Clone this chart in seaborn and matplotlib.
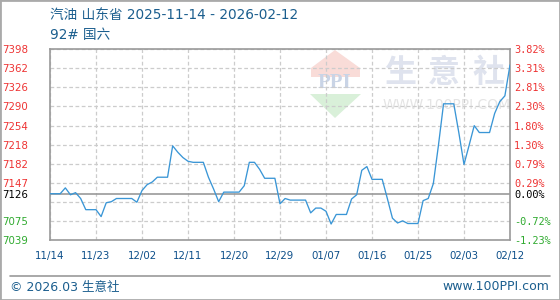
import numpy as np
import pandas as pd
import matplotlib
matplotlib.use('Agg')
import matplotlib.pyplot as plt
import seaborn as sns
from matplotlib.patches import Polygon, Rectangle
from matplotlib.lines import Line2D

# ---------------- data ----------------
title = '汽油 山东省 2025-11-14 - 2026-02-12'
subtitle = '92# 国六'
start_date = '2025-11-14'
end_date = '2026-02-12'
prices = [
    7126, 7126, 7126, 7137, 7124, 7128, 7117, 7096, 7096, 7096,
    7083, 7109, 7111, 7117, 7117, 7117, 7117, 7110, 7132, 7143,
    7148, 7157, 7157, 7157, 7216, 7204, 7194, 7187, 7185, 7185,
    7185, 7157, 7135, 7111, 7129, 7129, 7129, 7129, 7141, 7185,
    7185, 7172, 7155, 7155, 7155, 7107, 7117, 7114, 7114, 7114,
    7114, 7090, 7099, 7099, 7093, 7069, 7087, 7087, 7087, 7116,
    7124, 7170, 7177, 7153, 7153, 7153, 7117, 7080, 7071, 7075,
    7070, 7070, 7070, 7113, 7117, 7145, 7217, 7295, 7295, 7295,
    7240, 7181, 7217, 7254, 7241, 7241, 7241, 7277, 7299, 7310,
    7368,
]
base_price = 7126
base_label = '7126'
base_pct_label = '0.00%'
y_ticks = [7039, 7075, 7111, 7147, 7182, 7218, 7254, 7290, 7326, 7362, 7398]
y_left_labels = ['7039', '7075', '', '7147', '7182', '7218', '7254', '7290', '7326', '7362', '7398']
y_right_labels = ['-1.23%', '-0.72%', '', '0.29%', '0.79%', '1.30%', '1.80%', '2.30%', '2.81%', '3.31%', '3.82%']
x_tick_labels = ['11/14', '11/23', '12/02', '12/11', '12/20', '12/29',
                 '01/07', '01/16', '01/25', '02/03', '02/12']
footer_left = '© 2026.03 生意社'
footer_right = 'www.100PPI.com'
wm_chars = ['生', '意', '社']
wm_url = 'WWW.100PPI.COM'
wm_logo = 'PPI'

# ---------------- style ----------------
sns.set_theme(style='white')
plt.rcParams['font.family'] = ['DejaVu Sans', 'Noto Sans CJK SC']

W, H = 560, 300
def fx(x):
    return x / W
def fy(y):
    return 1 - y / H

BLUE_TXT = '#1b5e8e'
RED = '#ee3333'
GREEN = '#2faa2f'
LINE = '#3a96d6'
GRID = '#cccccc'
FRAME = '#9a9a9a'

dates = pd.date_range(start_date, end_date, freq='D')
df = pd.DataFrame({'date': dates, 'price': prices})

fig = plt.figure(figsize=(W / 100, H / 100), dpi=100)
fig.patch.set_facecolor('white')

# ---------------- watermark (background) ----------------
fig.patches.append(Polygon([(fx(311), fy(77)), (fx(311), fy(68)), (fx(335), fy(50)),
                            (fx(360), fy(68)), (fx(360), fy(77))],
                           closed=True, transform=fig.transFigure,
                           facecolor='#f9dcd8', edgecolor='none', zorder=-5))
fig.patches.append(Polygon([(fx(310), fy(94)), (fx(361), fy(94)), (fx(335), fy(118))],
                           closed=True, transform=fig.transFigure,
                           facecolor='#d9f0d9', edgecolor='none', zorder=-5))
fig.text(fx(335), fy(83), wm_logo, ha='center', va='center', fontsize=15,
         fontweight='bold', family='Liberation Serif', color='#c9d4e6', zorder=-4)
for c, xc in zip(wm_chars, [400, 444, 489]):
    fig.text(fx(xc), fy(73), c, ha='center', va='center', fontsize=23,
             family=['Noto Sans CJK SC'], fontweight='bold', color='#dfe3ee', zorder=-4)
fig.text(fx(447), fy(105), wm_url, ha='center', va='center', fontsize=10,
         color='#e4e4e4', zorder=-4)

# ---------------- main axes ----------------
ax = fig.add_axes([fx(50), fy(240), (510 - 50) / W, (240 - 49) / H])
ax.patch.set_alpha(0)
sns.lineplot(data=df, x='date', y='price', ax=ax, color=LINE, linewidth=0.95, zorder=5)
ax.set_xlim(dates[0], dates[-1])
ax.set_ylim(y_ticks[0], y_ticks[-1])
ax.set_xlabel('')
ax.set_ylabel('')

ax.set_xticks(dates[::9])
ax.set_xticklabels(x_tick_labels)
ax.set_yticks(y_ticks)
ax.set_yticklabels(y_left_labels)
ax.set_yticks([base_price], minor=True)
ax.set_yticklabels([base_label], minor=True)

ax.grid(True, which='major', color=GRID, linestyle=(0, (3, 2)), linewidth=0.9)
ax.set_axisbelow(True)
ax.axhline(base_price, color=FRAME, linewidth=1.2, zorder=3)

for s in ax.spines.values():
    s.set_color(FRAME)
    s.set_linewidth(1.2)

ax.tick_params(axis='x', which='both', length=0, pad=8, labelsize=7.4, labelcolor='#0d4f8a')
ax.tick_params(axis='y', which='both', length=0, pad=16, labelsize=7.4)
for t, v in zip(ax.get_yticklabels(), y_ticks):
    t.set_color(RED if v > base_price else GREEN)
for t in ax.get_yticklabels(minor=True):
    t.set_color('black')

# right axis (percent)
ax2 = ax.twinx()
ax2.set_ylim(ax.get_ylim())
ax2.set_yticks(y_ticks)
ax2.set_yticklabels(y_right_labels)
ax2.set_yticks([base_price], minor=True)
ax2.set_yticklabels([base_pct_label], minor=True)
ax2.tick_params(axis='y', which='both', length=0, pad=3, labelsize=7.4)
for t, v in zip(ax2.get_yticklabels(), y_ticks):
    t.set_color(RED if v > base_price else GREEN)
    t.set_family('DejaVu Sans Mono')
for t in ax2.get_yticklabels(minor=True):
    t.set_color('black')
    t.set_family('DejaVu Sans Mono')
for s in ax2.spines.values():
    s.set_visible(False)
ax2.grid(False)

# ---------------- titles / footer ----------------
fig.text(fx(50), fy(15), title, ha='left', va='center', fontsize=9.8, color=BLUE_TXT)
fig.text(fx(50), fy(35), subtitle, ha='left', va='center', fontsize=9.8, color=BLUE_TXT)

fig.lines.append(Line2D([fx(10), fx(550)], [fy(276), fy(276)], transform=fig.transFigure,
                        color=FRAME, linewidth=1.2))
fig.text(fx(10), fy(287), footer_left, ha='left', va='center', fontsize=9, color=BLUE_TXT)
fig.text(fx(549), fy(287), footer_right, ha='right', va='center', fontsize=9, color=BLUE_TXT)

fig.patches.append(Rectangle((0, 0), 1, 1, transform=fig.transFigure, fill=False,
                             edgecolor='#aaaaaa', linewidth=2.0, zorder=10))

fig.savefig('out.png', dpi=100, facecolor='white')
